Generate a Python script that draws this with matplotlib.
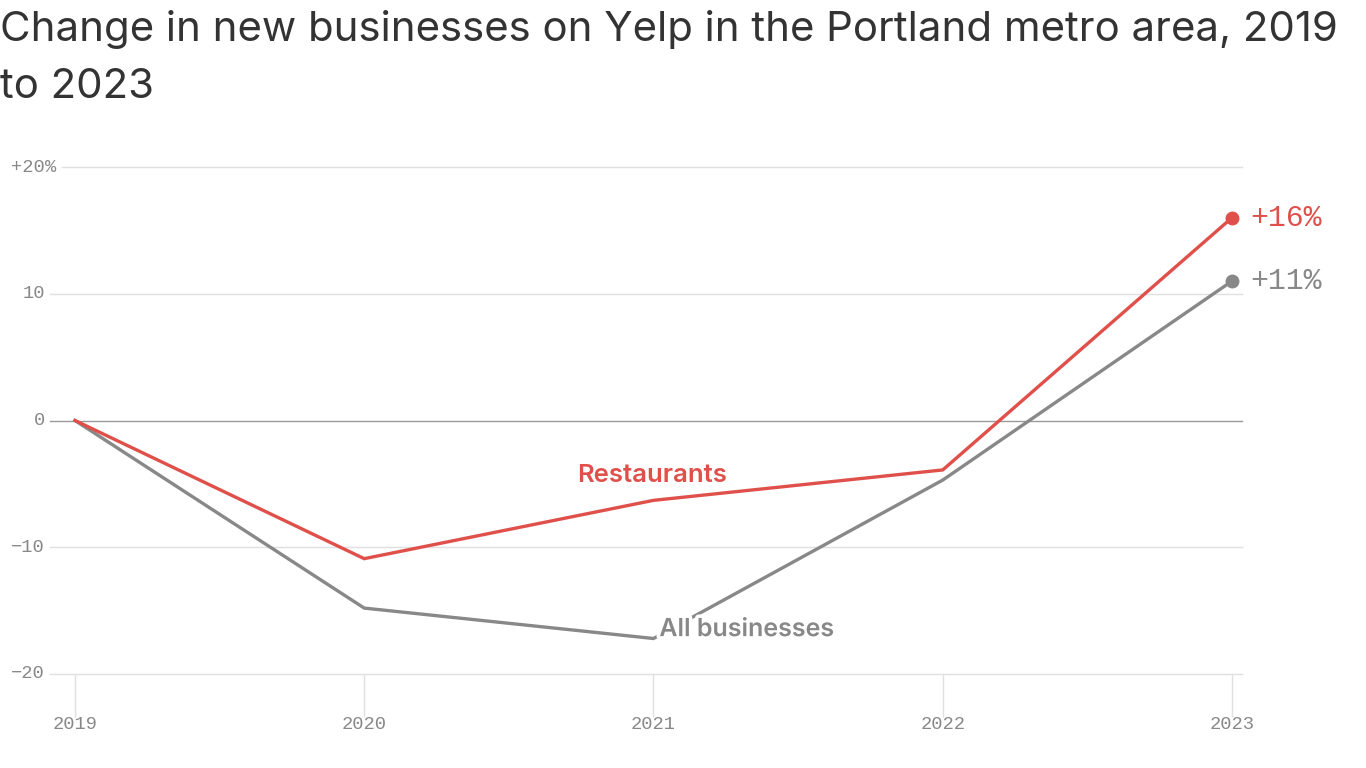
import matplotlib
matplotlib.use("Agg")
import matplotlib.pyplot as plt
import matplotlib.patheffects as pe
from matplotlib.transforms import blended_transform_factory

years = [2019, 2020, 2021, 2022, 2023]
restaurants = [0, -10.9, -6.3, -3.9, 16.0]
all_businesses = [0, -14.8, -17.2, -4.7, 11.0]
y_ticks = [20, 10, 0, -10, -20]
y_tick_labels = ["+20", "10", "0", "\u221210", "\u221220"]
title = "Change in new businesses on Yelp in the Portland metro area, 2019\nto 2023"

RED = "#e0504a"
GRAY = "#888888"
MONO = "Liberation Mono"

W, H = 1366, 768
fig = plt.figure(figsize=(W / 100, H / 100), dpi=100)
ax_left, ax_right = 50, 1242
ax_top, ax_bottom = 160, 674
ax = fig.add_axes([ax_left / W, 1 - ax_bottom / H, (ax_right - ax_left) / W, (ax_bottom - ax_top) / H])

ppy = (1232 - 75) / 4
ax.set_xlim(2019 - (75 - ax_left) / ppy, 2023 + (ax_right - 1232) / ppy)
ppu = (674 - 167) / 40
ax.set_ylim(-20, 20 + (167 - ax_top) / ppu)

for s in ax.spines.values():
    s.set_visible(False)

# grid lines
for v in y_ticks:
    if v == 0:
        ax.axhline(v, color="#999999", lw=1.0, zorder=1, clip_on=False)
    elif v == 20:
        ax.axhline(v, xmin=(62 - ax_left) / (ax_right - ax_left), color="#e0e0e0", lw=1.0, zorder=1, clip_on=False)
    else:
        ax.axhline(v, color="#e0e0e0", lw=1.0, zorder=1, clip_on=False)

ax.set_yticks([])
ax.set_xticks(years)
ax.set_xticklabels([str(y) for y in years], fontfamily=MONO, fontsize=13.5, color=GRAY)
ax.tick_params(axis="x", length=31, width=1, color="#e0e0e0", pad=-1)

# y tick labels
trans = blended_transform_factory(fig.transFigure, ax.transData)
for v, lab in zip(y_ticks, y_tick_labels):
    ax.text(45 / W, v, lab, transform=trans, ha="right", va="center",
            fontfamily=MONO, fontsize=13.5, color=GRAY)
    if v == 20:
        ax.text(45 / W, v, "%", transform=trans, ha="left", va="center",
                fontfamily=MONO, fontsize=13.5, color=GRAY)

ax.plot(years, all_businesses, color=GRAY, lw=2.4, zorder=3, solid_joinstyle="miter")
ax.plot(years, restaurants, color=RED, lw=2.4, zorder=4, solid_joinstyle="miter")
ax.plot(years[-1], all_businesses[-1], "o", color=GRAY, ms=9, zorder=5, clip_on=False)
ax.plot(years[-1], restaurants[-1], "o", color=RED, ms=9, zorder=5, clip_on=False)

ax.annotate(f"+{restaurants[-1]:.0f}%", (years[-1], restaurants[-1]), xytext=(13, 0),
            textcoords="offset points", ha="left", va="center",
            fontfamily=MONO, fontsize=21.5, color=RED, annotation_clip=False)
ax.annotate(f"+{all_businesses[-1]:.0f}%", (years[-1], all_businesses[-1]), xytext=(13, 0),
            textcoords="offset points", ha="left", va="center",
            fontfamily=MONO, fontsize=21.5, color=GRAY, annotation_clip=False)

ax.text(2020.995, -4.3, "Restaurants", ha="center", va="center", fontfamily="Inter",
        fontsize=18.5, fontweight="semibold", color=RED, zorder=6)
ax.text(2021.02, -16.5, "All businesses", ha="left", va="center", fontfamily="Inter",
        fontsize=18, fontweight="semibold", color=GRAY, zorder=6,
        path_effects=[pe.withStroke(linewidth=5, foreground="white")])

fig.text(0, 1 - 10 / H, title, ha="left", va="top", fontfamily="Inter", fontsize=30.2,
         color="#333333", linespacing=1.63)

fig.savefig("out.png", dpi=100, facecolor="white")
